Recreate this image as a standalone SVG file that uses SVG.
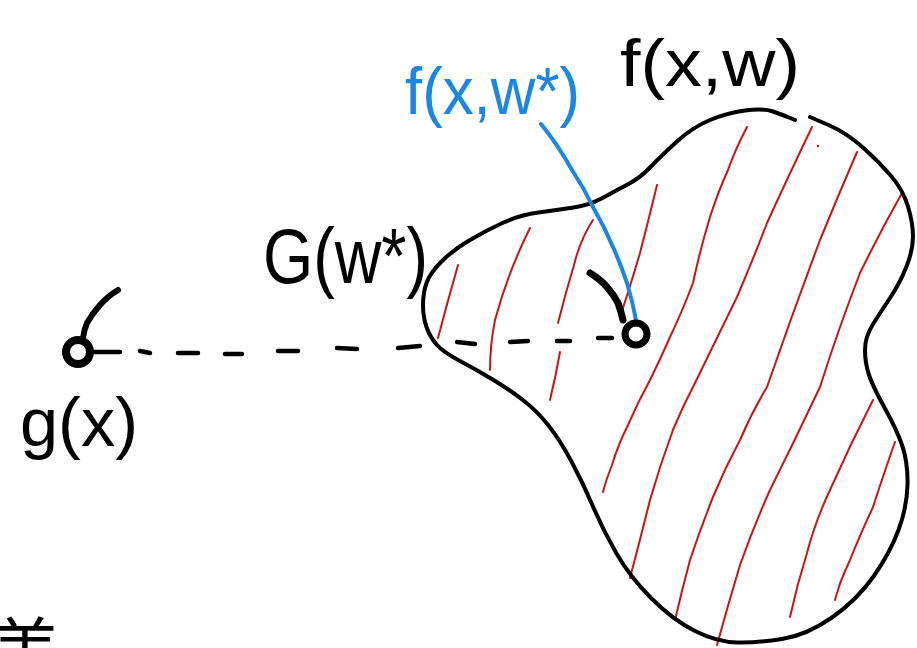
<svg xmlns="http://www.w3.org/2000/svg" width="917" height="648" viewBox="0 0 917 648">
<style>
.ink{fill:none;stroke:#000;stroke-linecap:round;stroke-linejoin:round}
.hatch{fill:none;stroke:#cc1414;stroke-width:2;stroke-linecap:round;stroke-linejoin:round}
.lbl{font-family:"Liberation Sans","Noto Sans",sans-serif;fill:#000}
.blue{fill:#1a86e8}
</style>
<rect width="917" height="648" fill="#fff"/>
<g id="region-f">
<path class="hatch" d="M458,265 Q448,300 438,338"/>
<path class="hatch" d="M530,228 Q508,272 495,320 Q490,345 490,370"/>
<path class="hatch" d="M593,220 Q580,240 574,265 Q565,295 558,323"/>
<path class="hatch" d="M560,352 Q556,375 550,400"/>
<path class="hatch" d="M657,185 Q648,222 640,253 Q630,287 620,317"/>
<path class="hatch" d="M747,127 Q735,150 728,170 Q718,192 710,217 Q700,250 693,283 Q682,312 670,337 Q660,360 650,380 Q638,402 628,425 Q618,445 612,465 Q606,480 603,492"/>
<path class="hatch" d="M812,127 Q788,177 767,223 Q752,262 737,297 Q715,342 693,387 Q682,408 673,430 Q660,465 650,500 Q640,540 630,578"/>
<path class="hatch" d="M857,152 Q838,196 820,240 Q792,315 767,387 Q752,412 740,440 Q725,468 713,497 Q700,530 690,560 Q682,590 675,620"/>
<path class="hatch" d="M902,193 Q880,232 860,273 Q838,330 820,387 Q795,440 770,490 Q753,528 740,565 Q728,605 717,645"/>
<path class="hatch" d="M873,400 Q850,445 830,490 Q815,522 807,553 Q797,585 790,617"/>
<path class="hatch" d="M895,442 Q885,470 873,507 Q860,535 850,560 Q840,582 838,590 Q836,596 835,600"/>
<circle cx="818" cy="146" r="1.2" fill="#cc1414"/>
<path class="ink" stroke-width="4" d="M795,120 L789,117.5 Q783,115 773,111.5 Q763,108 745,110.5 Q727,113 710,120 Q693,127 677.5,141 Q662,155 651,166.5 Q640,178 628.5,184 Q617,190 603.5,197.5 Q590,205 573.5,207.5 Q557,210 538.5,212.5 Q520,215 503.5,222.5 Q487,230 470,240 Q453,250 441.5,261.5 Q430,273 426.5,283 Q423,293 423,305 Q423,317 426.5,327 Q430,337 436.5,344.5 Q443,352 460,361 Q477,370 493.5,380 Q510,390 523.5,400.5 Q537,411 548.5,425.5 Q560,440 571.5,461.5 Q583,483 593,506.5 Q603,530 616.5,553.5 Q630,577 651.5,598.5 Q673,620 695,631 Q717,642 737,642.5 Q757,643 782,639 Q807,635 832,617.5 Q857,600 873.5,576.5 Q890,553 898.5,530 Q907,507 907.5,485 Q908,463 902.5,446.5 Q897,430 885,408.5 Q873,387 869,375 Q865,363 865,350 Q865,337 872.5,325 Q880,313 890,298 Q900,283 906.5,266.5 Q913,250 913,236.5 Q913,223 908,206.5 Q903,190 891.5,176.5 Q880,163 863.5,148 Q847,133 828.5,125 L810,117"/>
<text class="lbl" x="620" y="86" font-size="66" textLength="180" lengthAdjust="spacingAndGlyphs">f(x,w)</text>
<text class="lbl" x="263" y="283" font-size="78" textLength="165" lengthAdjust="spacingAndGlyphs">G(w*)</text>
</g>
<g id="connectors">
<g class="ink" stroke-width="4.5">
<path d="M93,352 L120,352"/>
<path d="M140,351 L150,353"/>
<path d="M178,353 L198,353"/>
<path d="M225,354 L242,354"/>
<path d="M278,351 L298,351"/>
<path d="M337,348 L357,349"/>
<path d="M398,348 L420,346"/>
<path d="M457,342 L475,344"/>
<path d="M510,342 L528,341"/>
<path d="M557,341 L570,341"/>
<path d="M598,338 L612,338"/>
</g>
<path fill="none" stroke="#1a86e8" stroke-width="4" stroke-linecap="round" d="M541,124 Q558,145 572,170 Q584,188 593,207 Q604,226 613,247 Q621,265 627,283 Q633,303 637,325"/>
</g>
<g id="point-g">
<path class="ink" stroke-width="6" d="M118,290 Q108,296 100,305 Q92,314 87,323 Q84,330 83,338"/>
<circle cx="78" cy="352" r="12" fill="none" stroke="#000" stroke-width="8"/>
<text class="lbl" x="20" y="446" font-size="68" textLength="118" lengthAdjust="spacingAndGlyphs">g(x)</text>
</g>
<g id="point-fstar">
<path class="ink" stroke-width="7" d="M590,273 Q600,279 607,287 Q614,295 618,303 Q621,311 623,320"/>
<circle cx="636" cy="334" r="11" fill="none" stroke="#000" stroke-width="7"/>
<text class="lbl blue" x="405" y="114" font-size="66" textLength="175" lengthAdjust="spacingAndGlyphs">f(x,w*)</text>
</g>
<text x="-10" y="676" font-size="70" font-family="'Noto Sans CJK JP','Noto Sans CJK SC',sans-serif" fill="#000">差</text>
</svg>
